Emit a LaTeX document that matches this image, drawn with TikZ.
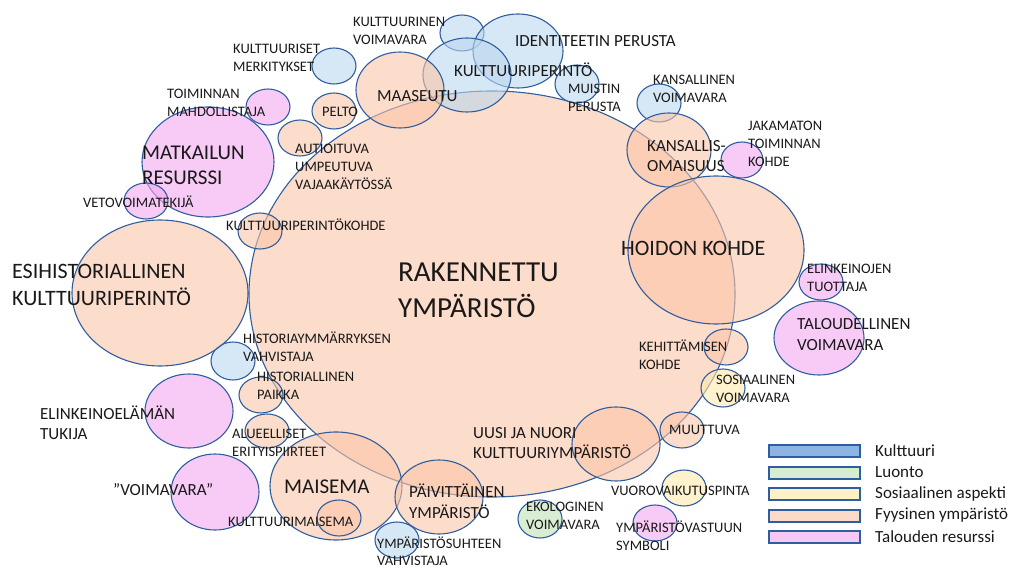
\documentclass[tikz,border=0pt]{standalone}
\usepackage{fontspec}
\setmainfont{Carlito}
\definecolor{ln}{RGB}{47,94,160}
\definecolor{cb}{RGB}{187,215,238}
\definecolor{cp}{RGB}{250,197,167}
\definecolor{cm}{RGB}{243,168,240}
\definecolor{cy}{RGB}{255,233,170}
\definecolor{cg}{RGB}{192,225,182}
\definecolor{tx}{RGB}{25,25,25}
\definecolor{lgb}{RGB}{142,180,227}
\definecolor{lgg}{RGB}{216,236,210}
\definecolor{lgy}{RGB}{255,240,200}
\definecolor{lgp}{RGB}{252,218,200}
\definecolor{lgm}{RGB}{248,200,245}
\tikzset{
  bub/.style={draw=ln, line width=1.1pt, fill opacity=0.6},
  lab/.style={anchor=west, align=left, inner sep=0pt, text=tx, font=\fontsize{14.5}{18}\selectfont},
  mid/.style={lab, font=\fontsize{17}{20.5}\selectfont},
  big/.style={lab, font=\fontsize{21}{25}\selectfont},
  bigger/.style={lab, font=\fontsize{22}{27}\selectfont},
  huge/.style={lab, font=\fontsize{29}{36}\selectfont},
  legbox/.style={draw=ln, line width=1.3pt},
  legtext/.style={lab, font=\fontsize{17}{20}\selectfont}
}
\newcommand\bubble[6]{\filldraw[bub, fill=#1] (#2,#3) ellipse [x radius=#4pt, y radius=#5pt] coordinate (#6);}
\begin{document}
\begin{tikzpicture}[x=1pt,y=-1pt]
\useasboundingbox (0,0) rectangle (1011,569);
% main
\bubble{cp}{492}{294}{243}{203}{main}
% blue
\bubble{cb}{462}{33}{22}{18}{b1}
\bubble{cb}{518}{51}{45}{37}{b2}
\bubble{cb}{467}{75}{44}{37}{b3}
\bubble{cb}{334}{66}{22}{18}{b4}
\bubble{cb}{577}{84}{22}{19}{b5}
\bubble{cb}{659}{103}{22}{19}{b6}
\bubble{cb}{233}{361}{22}{19}{b7}
\bubble{cb}{397}{540}{22}{18}{b8}
% peach
\bubble{cp}{400}{90}{44}{38}{p1}
\bubble{cp}{334}{111}{22}{18}{p2}
\bubble{cp}{300}{138}{22}{18}{p3}
\bubble{cp}{260}{231}{22}{18}{p4}
\bubble{cp}{160}{293}{88}{73}{p5}
\bubble{cp}{669}{150}{42}{37}{p6}
\bubble{cp}{716}{250}{88}{74}{p7}
\bubble{cp}{261}{395}{22}{18}{p8}
\bubble{cp}{267}{431}{22}{17}{p9}
\bubble{cp}{336}{486}{66}{54}{p10}
\bubble{cp}{339}{518}{22}{18}{p11}
\bubble{cp}{439}{497}{44}{37}{p12}
\bubble{cp}{616}{444}{44}{37}{p13}
\bubble{cp}{682}{430}{22}{18}{p14}
\bubble{cp}{726}{347}{22}{18}{p15}
% pink
\bubble{cm}{268}{107}{22}{18}{m1}
\bubble{cm}{208}{162}{66}{55}{m2}
\bubble{cm}{146}{201}{22}{18}{m3}
\bubble{cm}{742}{160}{21}{18}{m4}
\bubble{cm}{821}{282}{22}{18}{m5}
\bubble{cm}{819}{338}{45}{37}{m6}
\bubble{cm}{189}{411}{44}{37}{m7}
\bubble{cm}{215}{492}{44}{38}{m8}
\bubble{cm}{655}{523}{22}{18}{m9}
% yellow, green
\bubble{cy}{723}{388}{22}{19}{y1}
\bubble{cy}{684}{488}{22}{18}{y2}
\bubble{cg}{540}{519}{22}{19}{g1}
% labels
\node[lab] (t1) at (353,31) {KULTTUURINEN\\VOIMAVARA};
\node[lab] (t2) at (233,58) {KULTTUURISET\\MERKITYKSET};
\node[mid] (t3) at (515,41) {IDENTITEETIN PERUSTA};
\node[mid] (t4) at (454,70) {KULTTUURIPERINTÖ};
\node[mid] (t5) at (377,96) {MAASEUTU};
\node[lab] (t6) at (322,112) {PELTO};
\node[lab] (t7) at (568,98) {MUISTIN\\PERUSTA};
\node[lab] (t8) at (653,89) {KANSALLINEN\\VOIMAVARA};
\node[mid] (t9) at (647,156) {KANSALLIS-\\OMAISUUS};
\node[lab] (t10) at (748,144) {JAKAMATON\\TOIMINNAN\\KOHDE};
\node[bigger] (t11) at (621,248) {HOIDON KOHDE};
\node[lab] (t12) at (167,103) {TOIMINNAN\\MAHDOLLISTAJA};
\node[big] (t13) at (142,165) {MATKAILUN\\RESURSSI};
\node[lab] (t14) at (83,202) {VETOVOIMATEKIJÄ};
\node[lab] (t15) at (295,167) {AUTIOITUVA\\UMPEUTUVA\\VAJAAKÄYTÖSSÄ};
\node[lab] (t16) at (226,225) {KULTTUURIPERINTÖKOHDE};
\node[bigger] (t17) at (12,284.5) {ESIHISTORIALLINEN\\KULTTUURIPERINTÖ};
\node[huge] (t18) at (398,290) {RAKENNETTU\\YMPÄRISTÖ};
\node[lab] (t19) at (243,346.5) {HISTORIAYMMÄRRYKSEN\\VAHVISTAJA};
\node[lab] (t20) at (257,386) {HISTORIALLINEN\\PAIKKA};
\node[mid] (t21) at (40,422.5) {ELINKEINOELÄMÄN\\TUKIJA};
\node[lab] (t22) at (232,443) {ALUEELLISET\\ERITYISPIIRTEET};
\node[mid] (t23) at (113,490) {”VOIMAVARA”};
\node[big] (t24) at (284,487) {MAISEMA};
\node[lab] (t25) at (228,522) {KULTTUURIMAISEMA};
\node[mid] (t26) at (409,501) {PÄIVITTÄINEN\\YMPÄRISTÖ};
\node[lab, font=\fontsize{14.5}{17}\selectfont] (t27) at (377,551) {YMPÄRISTÖSUHTEEN\\VAHVISTAJA};
\node[mid] (t28) at (473,443) {UUSI JA NUORI\\KULTTUURIYMPÄRISTÖ};
\node[lab] (t29) at (669,430) {MUUTTUVA};
\node[lab] (t30) at (611,491) {VUOROVAIKUTUSPINTA};
\node[lab] (t31) at (526,515.5) {EKOLOGINEN\\VOIMAVARA};
\node[lab] (t32) at (616,535.5) {YMPÄRISTÖVASTUUN\\SYMBOLI};
\node[lab] (t33) at (807,277.5) {ELINKEINOJEN\\TUOTTAJA};
\node[mid] (t34) at (797,334.5) {TALOUDELLINEN\\VOIMAVARA};
\node[lab] (t35) at (639,354.5) {KEHITTÄMISEN\\KOHDE};
\node[lab] (t36) at (716,388.5) {SOSIAALINEN\\VOIMAVARA};
% legend
\draw[legbox, fill=lgb] (769,445) rectangle (860,457);
\draw[legbox, fill=lgg] (769,467) rectangle (860,479);
\draw[legbox, fill=lgy] (769,488) rectangle (860,500);
\draw[legbox, fill=lgp] (769,510) rectangle (860,522);
\draw[legbox, fill=lgm] (769,531) rectangle (860,543);
\node[legtext] (l1) at (875,451) {Kulttuuri};
\node[legtext] (l2) at (875,472.5) {Luonto};
\node[legtext] (l3) at (875,494) {Sosiaalinen aspekti};
\node[legtext] (l4) at (875,515.5) {Fyysinen ympäristö};
\node[legtext] (l5) at (875,537) {Talouden resurssi};
\end{tikzpicture}
\end{document}
